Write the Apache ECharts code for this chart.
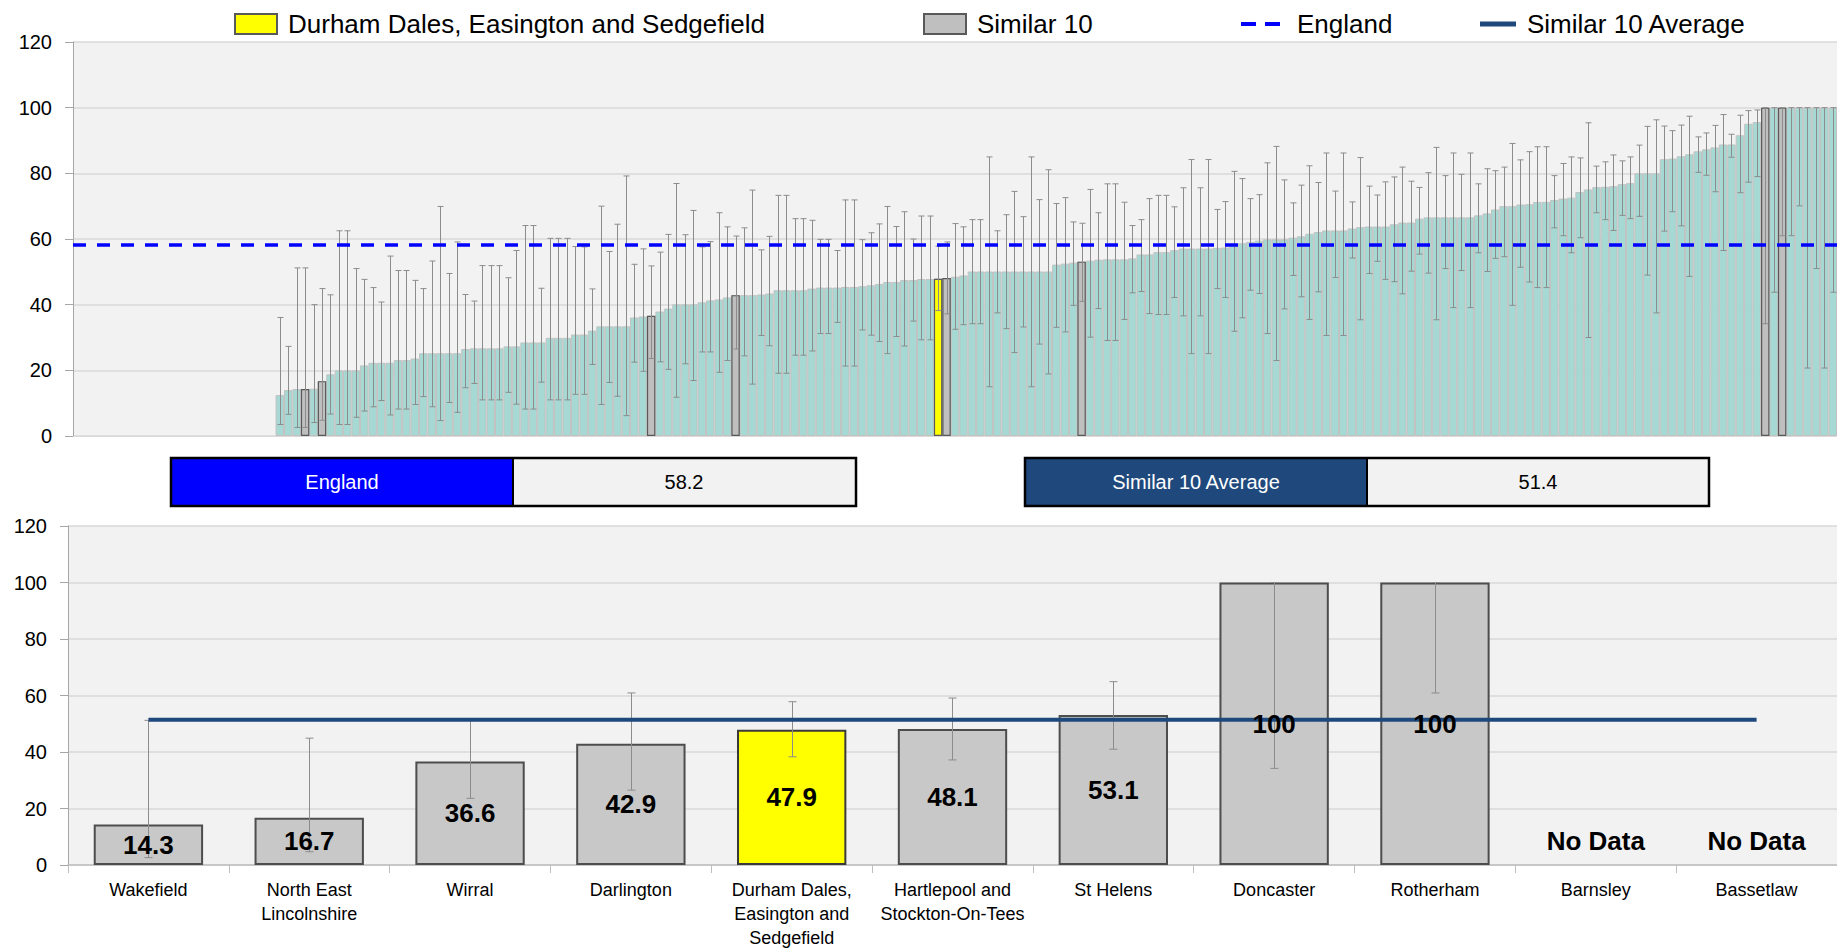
<!DOCTYPE html>
<html>
<head>
<meta charset="utf-8">
<script src="https://cdn.jsdelivr.net/npm/echarts@6/dist/echarts.min.js"></script>
<style>
html,body{margin:0;padding:0;background:#ffffff;}
#chart{width:1837px;height:950px;}
</style>
</head>
<body>
<div id="chart"></div>
<script>
// ---------------- DATA ----------------
const englandValue = 58.2;
const similarAverage = 51.4;
const durhamName = 'Durham Dales, Easington and Sedgefield';
const similarName = 'Similar 10';
const englandName = 'England';
const averageName = 'Similar 10 Average';

const yTickMin = 0, yTickMax = 120, yTickStep = 20;

// Top chart: all CCGs sorted by value (first 24 have no data)
const topValues = [
  null,null,null,null,null,null,null,null,null,null,null,null,null,null,null,null,null,null,null,null,null,null,null,null,
  12.5,14.0,14.3,14.3,14.4,16.7,18.8,20.0,20.0,20.0,
  21.5,22.3,22.3,22.3,23.1,23.1,23.6,25.2,25.2,25.2,
  25.2,25.2,26.5,26.7,26.7,26.7,26.7,27.3,27.3,28.5,
  28.5,28.5,29.9,29.9,29.9,30.9,30.9,32.1,33.4,33.4,
  33.4,33.4,36.1,36.4,36.6,37.9,38.8,40.1,40.1,40.1,
  40.7,41.3,41.6,42.2,42.9,42.9,42.9,43.1,43.4,44.4,
  44.4,44.4,44.4,44.9,45.2,45.2,45.2,45.4,45.4,45.6,
  45.9,46.3,46.9,46.9,47.5,47.5,47.8,47.8,47.9,48.1,
  48.5,48.9,50.1,50.1,50.1,50.1,50.1,50.1,50.1,50.1,
  50.1,50.1,52.2,52.5,52.8,53.1,53.4,53.7,53.8,53.8,
  53.8,54.1,55.3,55.3,56.0,56.0,56.6,57.1,57.1,57.1,
  57.1,57.3,57.4,58.3,58.7,59.1,59.5,59.9,59.9,59.9,
  60.4,60.8,61.6,62.1,62.6,62.6,62.6,63.2,63.6,63.8,
  63.8,63.8,64.5,65.0,65.0,66.2,66.6,66.6,66.6,66.6,
  66.6,66.6,67.2,67.8,69.0,70.0,70.0,70.5,70.6,71.3,
  71.3,71.9,72.3,72.6,74.3,75.1,75.8,75.9,76.1,76.7,
  77.0,80.0,80.0,80.0,84.3,84.5,85.2,85.8,86.7,87.3,
  87.9,88.8,88.8,91.6,95.1,95.6,100,100,100,100,
  100,100,100,100,100
];
const topLower = [
  null,null,null,null,null,null,null,null,null,null,null,null,null,null,null,null,null,null,null,null,null,null,null,null,
  3.5,6.6,2.6,2.6,4.1,4.8,6.7,3.5,3.5,5.7,
  7.6,8.9,10.8,6.4,8.2,8.2,9.6,12.0,8.9,4.7,
  10.2,7.2,14.7,16.0,11.0,11.0,11.0,13.3,9.7,8.2,
  8.2,16.4,11.0,11.0,11.0,12.7,12.7,21.8,9.6,16.3,
  12.1,6.2,22.5,19.7,23.6,22.6,20.3,11.8,22.0,16.9,
  25.6,25.6,19.4,23.0,26.5,24.4,15.8,30.6,27.5,19.1,
  19.1,24.6,24.6,25.9,31.2,31.2,34.6,21.3,21.3,32.3,
  30.7,28.8,25.1,30.3,27.4,35.0,29.3,29.3,38.2,37.2,
  32.5,33.9,34.2,34.2,15.0,37.5,32.7,25.4,33.2,15.0,
  28.0,18.9,33.1,31.7,39.8,41.0,30.1,38.8,29.1,29.1,
  35.5,43.6,44.0,37.3,37.0,37.0,42.2,36.6,25.1,36.6,
  25.1,44.9,42.2,31.9,36.0,44.4,43.4,31.2,23.0,38.7,
  48.9,42.4,35.5,43.9,30.6,48.3,30.6,54.2,35.4,49.5,
  53.2,47.7,47.0,43.3,50.2,55.4,49.6,35.4,51.0,39.1,
  50.4,39.1,55.8,50.1,54.1,54.6,39.8,51.4,46.9,45.2,
  45.2,63.4,61.0,55.8,60.4,30.0,68.0,65.9,62.6,67.2,
  66.2,66.9,49.0,37.5,62.4,68.3,64.0,48.6,80.3,79.4,
  74.4,56.5,84.9,74.1,77.3,79.0,34.2,43.8,61.0,61.0,
  70.1,20.7,51.0,20.7,43.8
];
const topUpper = [
  null,null,null,null,null,null,null,null,null,null,null,null,null,null,null,null,null,null,null,null,null,null,null,null,
  36.1,27.3,51.2,51.2,40.0,44.9,43.0,62.5,62.5,51.0,
  47.7,45.2,40.8,54.8,50.4,50.4,47.4,44.9,53.3,69.9,
  49.5,59.1,43.1,41.1,51.9,51.9,51.9,48.2,56.5,64.1,
  64.1,45.0,60.2,60.2,60.2,57.7,57.6,44.8,70.0,56.2,
  64.5,79.2,52.3,57.0,51.8,56.0,61.4,76.9,61.3,68.7,
  57.6,59.2,68.0,63.7,60.9,63.4,74.9,56.7,60.8,73.3,
  73.3,66.2,66.2,65.7,59.9,59.9,56.5,71.9,71.9,59.8,
  61.9,64.6,69.9,63.8,68.3,60.0,67.0,67.0,57.8,59.1,
  64.7,63.7,65.9,65.9,85.0,62.5,67.4,74.5,66.8,85.0,
  72.0,81.1,70.8,72.6,65.2,64.8,75.1,68.0,76.8,76.8,
  71.2,64.1,65.9,72.3,73.3,73.3,69.8,75.6,84.2,75.6,
  84.2,69.0,71.4,80.6,78.4,72.3,73.5,83.2,88.2,78.0,
  71.0,76.4,82.3,77.2,86.2,74.6,86.2,71.3,84.8,76.1,
  73.4,77.4,78.9,81.9,77.6,75.7,80.2,87.9,79.3,86.2,
  79.7,86.2,76.8,81.4,80.8,81.9,89.1,84.1,86.6,88.1,
  88.1,79.3,83.0,85.0,84.7,95.4,82.2,83.5,85.6,83.8,
  85.0,88.6,94.3,96.3,94.4,93.0,94.7,97.4,91.1,92.3,
  94.6,97.9,91.9,97.7,99.1,99.3,100,100,100,100,
  100,100,100,100,100
];
// category positions (0-based) of the highlighted areas in the top chart
const similarPositions = [27, 29, 68, 78, 103, 119, 200, 202];
const durhamPosition = 102;

// Bottom chart
const bottomCategories = [
  'Wakefield',
  'North East\nLincolnshire',
  'Wirral',
  'Darlington',
  'Durham Dales,\nEasington and\nSedgefield',
  'Hartlepool and\nStockton-On-Tees',
  'St Helens',
  'Doncaster',
  'Rotherham',
  'Barnsley',
  'Bassetlaw'
];
const bottomValues = [14.3, 16.7, 36.6, 42.9, 47.9, 48.1, 53.1, 100, 100, null, null];
const bottomLower  = [2.6, 4.7, 23.6, 26.5, 38.3, 37.2, 41.0, 34.2, 60.9, null, null];
const bottomUpper  = [51.2, 44.9, 51.7, 60.9, 57.8, 59.1, 64.9, 100, 100, null, null];

// ---------------- STYLE ----------------
const FONT = "'Liberation Sans', Arial, sans-serif";
const TEAL = '#a6d9d3';
const GREY_BAR = '#bfbfbf';
const YELLOW = '#ffff00';
const NAVY = '#1f497d';
const BLUE = '#0000ff';
const ERR = '#8c8c8c';

const chart = echarts.init(document.getElementById('chart'), null, {renderer: 'svg'});

function errorBars(capHalf, color) {
  return function (params, api) {
    const x = api.value(0), lo = api.value(1), hi = api.value(2);
    if (isNaN(lo) || isNaN(hi)) return null;
    const pLo = api.coord([x, lo]);
    const pHi = api.coord([x, hi]);
    const cx = Math.round(pLo[0]) + 0.5;
    const st = {stroke: color, lineWidth: 1};
    return {
      type: 'group',
      children: [
        {type: 'line', shape: {x1: cx, y1: pHi[1], x2: cx, y2: pLo[1]}, style: st},
        {type: 'line', shape: {x1: cx - capHalf, y1: pHi[1], x2: cx + capHalf, y2: pHi[1]}, style: st},
        {type: 'line', shape: {x1: cx - capHalf, y1: pLo[1], x2: cx + capHalf, y2: pLo[1]}, style: st}
      ]
    };
  };
}

const yAxisCommon = {
  type: 'value', min: yTickMin, max: yTickMax, interval: yTickStep,
  axisLine: {show: true, lineStyle: {color: '#a6a6a6', width: 1}},
  axisTick: {show: true, length: 8, lineStyle: {color: '#a6a6a6'}},
  axisLabel: {fontSize: 20, color: '#000', margin: 21, fontFamily: FONT},
  splitLine: {show: true, lineStyle: {color: '#d9d9d9', width: 1.5}}
};

const legendCommon = {
  top: 11, padding: 0, selectedMode: false,
  textStyle: {fontSize: 26, color: '#000', fontFamily: FONT, padding: [0, 0, 0, 6]}
};

const option = {
  animation: false,
  backgroundColor: '#ffffff',
  textStyle: {fontFamily: FONT},
  legend: [
    Object.assign({}, legendCommon, {left: 234, itemWidth: 42, itemHeight: 20, data: [{name: durhamName, icon: 'rect'}]}),
    Object.assign({}, legendCommon, {left: 923, itemWidth: 42, itemHeight: 20, data: [{name: similarName, icon: 'rect'}]}),
    Object.assign({}, legendCommon, {left: 1241, itemWidth: 39, itemHeight: 4,
      data: [{name: englandName, icon: 'path://M0,0h15v4h-15z M24,0h15v4h-15z'}],
      textStyle: Object.assign({}, legendCommon.textStyle, {padding: [0, 0, 0, 12]})}),
    Object.assign({}, legendCommon, {left: 1480, itemWidth: 36, itemHeight: 5, data: [{name: averageName, icon: 'rect'}]})
  ],
  grid: [
    {left: 73, right: -3, top: 42, bottom: 514, show: true, backgroundColor: '#f2f2f2', borderWidth: 0, containLabel: false},
    {left: 68, right: -20, top: 526, bottom: 76, show: true, backgroundColor: '#f2f2f2', borderWidth: 0, containLabel: false}
  ],
  xAxis: [
    {gridIndex: 0, type: 'category', data: topValues.map((v, i) => String(i + 1)),
      axisLine: {show: true, lineStyle: {color: '#d9d9d9'}}, axisTick: {show: false},
      axisLabel: {show: false}, splitLine: {show: false}},
    {gridIndex: 1, type: 'category', data: bottomCategories,
      axisLine: {show: true, lineStyle: {color: '#bfbfbf', width: 1.5}},
      axisTick: {show: true, length: 8, lineStyle: {color: '#bfbfbf'}},
      axisLabel: {interval: 0, fontSize: 18, lineHeight: 24, color: '#000', margin: 13, fontFamily: FONT},
      splitLine: {show: false}}
  ],
  yAxis: [
    Object.assign({gridIndex: 0}, yAxisCommon),
    Object.assign({gridIndex: 1}, yAxisCommon)
  ],
  graphic: [
    {type: 'rect', shape: {x: 171, y: 458, width: 342, height: 48}, style: {fill: BLUE}, z: 10},
    {type: 'rect', shape: {x: 513, y: 458, width: 343, height: 48}, style: {fill: '#f2f2f2'}, z: 10},
    {type: 'rect', shape: {x: 171, y: 458, width: 685, height: 48}, style: {fill: 'none', stroke: '#000', lineWidth: 2.5}, z: 11},
    {type: 'line', shape: {x1: 513, y1: 458, x2: 513, y2: 506}, style: {stroke: '#000', lineWidth: 2}, z: 11},
    {type: 'text', x: 342, y: 482, z: 12, style: {text: englandName, fill: '#fff', fontSize: 20, fontFamily: FONT, align: 'center', verticalAlign: 'middle'}},
    {type: 'text', x: 684, y: 482, z: 12, style: {text: String(englandValue), fill: '#000', fontSize: 20, fontFamily: FONT, align: 'center', verticalAlign: 'middle'}},

    {type: 'rect', shape: {x: 1025, y: 458, width: 342, height: 48}, style: {fill: NAVY}, z: 10},
    {type: 'rect', shape: {x: 1367, y: 458, width: 342, height: 48}, style: {fill: '#f2f2f2'}, z: 10},
    {type: 'rect', shape: {x: 1025, y: 458, width: 684, height: 48}, style: {fill: 'none', stroke: '#000', lineWidth: 2.5}, z: 11},
    {type: 'line', shape: {x1: 1367, y1: 458, x2: 1367, y2: 506}, style: {stroke: '#000', lineWidth: 2}, z: 11},
    {type: 'text', x: 1196, y: 482, z: 12, style: {text: averageName, fill: '#fff', fontSize: 20, fontFamily: FONT, align: 'center', verticalAlign: 'middle'}},
    {type: 'text', x: 1538, y: 482, z: 12, style: {text: String(similarAverage), fill: '#000', fontSize: 20, fontFamily: FONT, align: 'center', verticalAlign: 'middle'}}
  ],
  series: [
    {
      name: 'All areas', type: 'bar', xAxisIndex: 0, yAxisIndex: 0,
      data: topValues, barCategoryGap: '0%', barGap: '-100%', z: 1,
      itemStyle: {color: TEAL, borderColor: '#c2c2c2', borderWidth: 1}
    },
    {
      name: durhamName, type: 'bar', xAxisIndex: 0, yAxisIndex: 0,
      data: topValues.map((v, i) => i === durhamPosition ? v : null),
      barCategoryGap: '0%', barGap: '-100%', z: 2,
      itemStyle: {color: YELLOW, borderColor: '#595959', borderWidth: 1.2}
    },
    {
      name: similarName, type: 'bar', xAxisIndex: 0, yAxisIndex: 0,
      data: topValues.map((v, i) => similarPositions.indexOf(i) >= 0 ? v : null),
      barCategoryGap: '0%', barGap: '-100%', z: 2,
      itemStyle: {color: GREY_BAR, borderColor: '#595959', borderWidth: 1.2}
    },
    {
      name: 'Top error bars', type: 'custom', xAxisIndex: 0, yAxisIndex: 0, z: 3,
      renderItem: errorBars(3, ERR),
      encode: {x: 0, y: [1, 2]},
      data: topValues.map((v, i) => [i, topLower[i], topUpper[i]])
    },
    {
      name: englandName, type: 'line', xAxisIndex: 0, yAxisIndex: 0, z: 5,
      data: [], symbol: 'none',
      itemStyle: {color: BLUE}, lineStyle: {color: BLUE, width: 3, type: [13, 11]},
      markLine: {
        silent: true, symbol: ['none', 'none'], label: {show: false},
        lineStyle: {color: BLUE, width: 3.5, type: [13, 11]},
        data: [{yAxis: englandValue}]
      }
    },
    {
      name: similarName, type: 'bar', xAxisIndex: 1, yAxisIndex: 1, z: 2,
      barWidth: '68%',
      data: bottomValues.map((v, i) => bottomCategories[i].replace(/\n/g, ' ') === durhamName
        ? {value: v, itemStyle: {color: YELLOW, borderColor: '#3a3a3a'}}
        : v),
      itemStyle: {color: '#c8c8c8', borderColor: '#4d4d4d', borderWidth: 2}
    },
    {
      name: 'Bottom error bars', type: 'custom', xAxisIndex: 1, yAxisIndex: 1, z: 3,
      renderItem: errorBars(4, ERR),
      encode: {x: 0, y: [1, 2]},
      data: bottomValues.map((v, i) => [i, bottomLower[i], bottomUpper[i]])
    },
    {
      name: averageName, type: 'line', xAxisIndex: 1, yAxisIndex: 1, z: 4,
      symbol: 'none', data: bottomCategories.map(() => similarAverage),
      itemStyle: {color: NAVY}, lineStyle: {color: NAVY, width: 4}
    },
    {
      name: 'Bottom labels', type: 'custom', xAxisIndex: 1, yAxisIndex: 1, z: 6,
      encode: {x: 0, y: 1},
      data: bottomValues.map((v, i) => [i, v]),
      renderItem: function (params, api) {
        const x = api.value(0), v = api.value(1);
        const txtStyle = {fill: '#000', fontSize: 26, fontWeight: 'bold', fontFamily: FONT, align: 'center', verticalAlign: 'middle'};
        if (isNaN(v)) {
          const b = api.coord([x, 0]);
          return {type: 'text', x: b[0], y: b[1] - 24, style: Object.assign({text: 'No Data'}, txtStyle)};
        }
        const c = api.coord([x, v / 2]);
        return {type: 'text', x: c[0], y: c[1], style: Object.assign({text: String(v)}, txtStyle)};
      }
    }
  ]
};

chart.setOption(option);
</script>
</body>
</html>
